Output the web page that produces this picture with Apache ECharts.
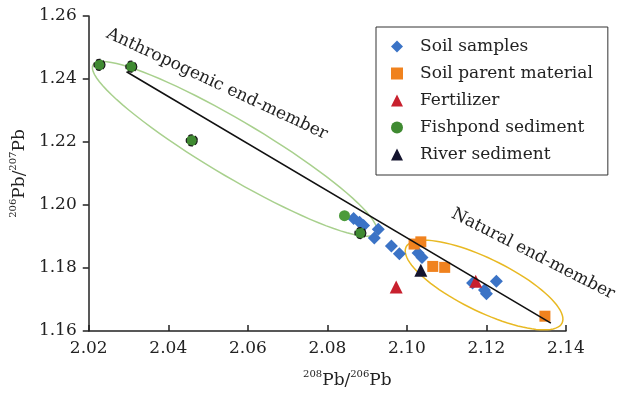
<!DOCTYPE html>
<html>
<head>
<meta charset="utf-8">
<script src="https://cdn.jsdelivr.net/npm/echarts@6/dist/echarts.min.js"></script>
<style>
html, body { margin: 0; padding: 0; background: #fff; }
#chart { width: 625px; height: 394px; }
</style>
</head>
<body>
<div id="chart"></div>
<script>
// 读图得到的数据 (208Pb/206Pb, 206Pb/207Pb)
const soilSamples = [
  [2.0866, 1.1957], [2.0881, 1.1945], [2.0891, 1.1935], [2.0928, 1.1923],
  [2.0918, 1.1895], [2.0961, 1.1870], [2.0981, 1.1845], [2.1028, 1.1848],
  [2.1038, 1.1833], [2.1165, 1.1752], [2.1195, 1.1730], [2.1200, 1.1718],
  [2.1225, 1.1758]
];
const parentMaterial = [
  [2.1018, 1.1876], [2.1035, 1.1883], [2.1065, 1.1805], [2.1095, 1.1802],
  [2.1347, 1.1647]
];
const fertilizer = [[2.0973, 1.1740], [2.1173, 1.1758]];
const fishpond = [
  [2.0227, 1.2445], [2.0307, 1.2439], [2.0459, 1.2205], [2.0843, 1.1966],
  [2.0883, 1.1911]
];
const fishpondOutlined = [1, 1, 1, 0, 1];
const riverSediment = [[2.1035, 1.1793]];
// 趋势线两端
const trendLine = [[2.0295, 1.2423], [2.1362, 1.1625]];
// 椭圆: 中心, 长轴端点, 短轴端点
const anthroEllipse = [2.0567, 1.2178, 2.0923, 1.1911, 2.0530, 1.2103];
const naturalEllipse = [2.1194, 1.1746, 2.1390, 1.1625, 2.1164, 1.1671];

const serif = "DejaVu Serif";

let chart = echarts.init(document.getElementById("chart"));

function ellipseSeries(params, color) {
  return {
    type: "custom",
    silent: true,
    z: 1,
    data: [params],
    renderItem(p, api) {
      const c = api.coord([api.value(0), api.value(1)]);
      const a = api.coord([api.value(2), api.value(3)]);
      const b = api.coord([api.value(4), api.value(5)]);
      const pts = [];
      for (let i = 0; i <= 90; i++) {
        const t = (i / 90) * Math.PI * 2;
        const ct = Math.cos(t), st = Math.sin(t);
        pts.push([
          c[0] + ct * (a[0] - c[0]) + st * (b[0] - c[0]),
          c[1] + ct * (a[1] - c[1]) + st * (b[1] - c[1])
        ]);
      }
      return {
        type: "polyline",
        shape: { points: pts },
        style: { fill: null, stroke: color, lineWidth: 1.5 }
      };
    }
  };
}

const nameRich = {
  b: { fontFamily: serif, fontSize: 17, color: "#222", verticalAlign: "bottom", lineHeight: 20 },
  sup: { fontFamily: serif, fontSize: 10, color: "#222", verticalAlign: "top", lineHeight: 12 }
};

const option = {
  animation: false,
  grid: { left: 85, right: 59, top: 16, bottom: 57 },
  xAxis: {
    type: "value",
    min: 2.02,
    max: 2.14,
    interval: 0.02,
    name: "{sup|208}{b|Pb/}{sup|206}{b|Pb}",
    nameLocation: "middle",
    nameGap: 38,
    nameTextStyle: { padding: [0, 0, 0, 40], rich: nameRich },
    axisLine: { lineStyle: { color: "#222", width: 1.5 } },
    axisTick: { inside: true, length: 6, lineStyle: { color: "#222", width: 1.5 } },
    axisLabel: {
      margin: 9,
      fontFamily: serif,
      fontSize: 17,
      color: "#222",
      formatter: (v) => v.toFixed(2)
    },
    splitLine: { show: false }
  },
  yAxis: {
    type: "value",
    min: 1.16,
    max: 1.26,
    interval: 0.02,
    name: "{sup|206}{b|Pb/}{sup|207}{b|Pb}",
    nameLocation: "middle",
    nameGap: 52,
    nameTextStyle: { rich: nameRich },
    axisLine: { show: true, lineStyle: { color: "#222", width: 1.5 } },
    axisTick: { show: true, length: 6, lineStyle: { color: "#222", width: 1.5 } },
    axisLabel: {
      margin: 12,
      fontFamily: serif,
      fontSize: 17,
      color: "#222",
      formatter: (v) => v.toFixed(2)
    },
    splitLine: { show: false }
  },
  legend: {
    data: ["Soil samples", "Soil parent material", "Fertilizer", "Fishpond sediment", "River sediment"],
    orient: "vertical",
    left: 376,
    top: 27,
    padding: [11, 15, 12, 15],
    itemGap: 10,
    itemWidth: 12,
    itemHeight: 12,
    borderColor: "#333",
    borderWidth: 1,
    textStyle: { fontFamily: serif, fontSize: 17, color: "#222", padding: [0, 0, 0, 12] }
  },
  graphic: [
    {
      type: "text",
      x: 217,
      y: 84,
      rotation: (-25 * Math.PI) / 180,
      style: {
        text: "Anthropogenic end-member",
        fontFamily: serif,
        fontSize: 17,
        fill: "#222",
        align: "center",
        verticalAlign: "middle"
      }
    },
    {
      type: "text",
      x: 533,
      y: 254,
      rotation: (-27 * Math.PI) / 180,
      style: {
        text: "Natural end-member",
        fontFamily: serif,
        fontSize: 17,
        fill: "#222",
        align: "center",
        verticalAlign: "middle"
      }
    }
  ],
  series: [
    ellipseSeries(anthroEllipse, "#a8d08d"),
    ellipseSeries(naturalEllipse, "#e8b923"),
    {
      name: "Soil samples",
      type: "scatter",
      symbol: "diamond",
      symbolSize: 13,
      z: 3,
      itemStyle: { color: "#3b73c6", opacity: 1 },
      data: soilSamples
    },
    {
      name: "Soil parent material",
      type: "scatter",
      symbol: "rect",
      symbolSize: 11,
      z: 3,
      itemStyle: { color: "#f0821e", opacity: 1 },
      data: parentMaterial
    },
    {
      name: "Fertilizer",
      type: "scatter",
      symbol: "triangle",
      symbolSize: 13,
      z: 3,
      itemStyle: { color: "#c8202e", opacity: 1 },
      data: fertilizer
    },
    {
      name: "Fishpond sediment",
      type: "scatter",
      symbol: "circle",
      symbolSize: 11,
      z: 3,
      itemStyle: { color: "#3f8a31", opacity: 1 },
      data: fishpond.map((p, i) => ({
        value: p,
        itemStyle: fishpondOutlined[i]
          ? { borderColor: "#1a1a1a", borderType: "dashed", borderWidth: 1.2 }
          : { color: "#4c9b3c" }
      }))
    },
    {
      name: "River sediment",
      type: "scatter",
      symbol: "triangle",
      symbolSize: 13,
      z: 3,
      itemStyle: { color: "#14142e", opacity: 1 },
      data: riverSediment
    },
    {
      type: "line",
      z: 4,
      symbol: "none",
      silent: true,
      lineStyle: { color: "#111", width: 1.5 },
      data: trendLine
    }
  ]
};

chart.setOption(option);
</script>
</body>
</html>
